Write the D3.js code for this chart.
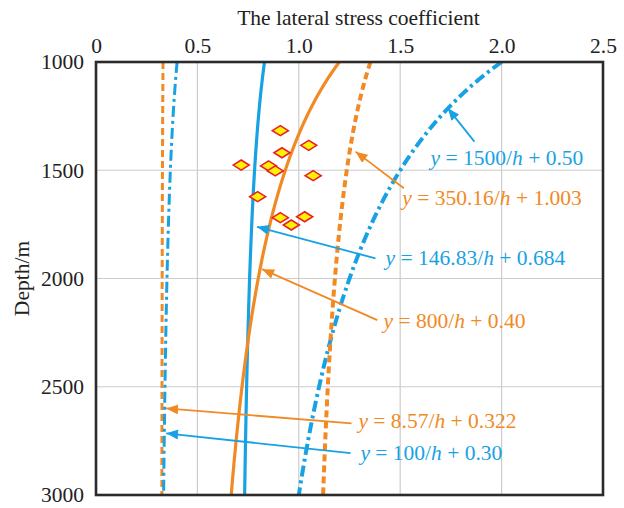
<!DOCTYPE html>
<html>
<head>
<meta charset="utf-8">
<script src="https://cdn.jsdelivr.net/npm/d3@7"></script>
<style>
  html, body { margin: 0; padding: 0; background: #fff; }
  svg { display: block; }
  text { font-family: "Liberation Serif", "DejaVu Serif", serif; }
</style>
</head>
<body>
<div id="chart"></div>
<script>
// Lateral stress coefficient models y = a/h + b, with h the depth in metres
const curveNames   = ["1500/h+0.50", "350.16/h+1.003", "146.83/h+0.684", "800/h+0.40", "8.57/h+0.322", "100/h+0.30"];
const curveA       = [1500, 350.16, 146.83, 800, 8.57, 100];
const curveB       = [0.50, 1.003, 0.684, 0.40, 0.322, 0.30];
const curveAText   = ["1500", "350.16", "146.83", "800", "8.57", "100"];
const curveBText   = ["0.50", "1.003", "0.684", "0.40", "0.322", "0.30"];
const curveColor   = ["blue", "orange", "blue", "orange", "orange", "blue"];
const curveStyle   = ["dashdot", "dash", "solid", "solid", "dash", "dashdot"];
const curveWeight  = ["heavy", "heavy", "medium", "medium", "light", "light"];

// Measured points: coefficient and depth
const pointCoef  = [0.909, 1.049, 0.917, 0.716, 0.851, 0.884, 1.071, 0.797, 0.909, 1.029, 0.963];
const pointDepth = [1317, 1385, 1419, 1476, 1480, 1503, 1525, 1622, 1719, 1715, 1753];

// Callouts: arrow tip, arrow tail and label anchor, in coefficient / depth units
const tipCoef    = [1.735, 1.280, 0.794, 0.819, 0.346, 0.346];
const tipDepth   = [1214, 1414, 1761, 1957, 2600, 2715];
const tailCoef   = [1.866, 1.518, 1.378, 1.387, 1.260, 1.255];
const tailDepth  = [1368, 1583, 1907, 2192, 2669, 2807];
const labelCoef  = [1.650, 1.510, 1.428, 1.418, 1.294, 1.304];
const labelDepth = [1476, 1660, 1938, 2230, 2690, 2838];

// Axes
const xTicks = [0, 0.5, 1.0, 1.5, 2.0, 2.5];
const xTickLabels = ["0", "0.5", "1.0", "1.5", "2.0", "2.5"];
const yTicks = [1000, 1500, 2000, 2500, 3000];
const xTitle = "The lateral stress coefficient";
const yTitle = "Depth/m";

const W = 624, H = 508;
const margin = { top: 62, right: 21, bottom: 13, left: 96 };
const iw = W - margin.left - margin.right;
const ih = H - margin.top - margin.bottom;

const palette = { blue: "#18a2e4", orange: "#f18a25" };
const dashes = { solid: null, dash: "7,4", dashdot: "11,4,3,4" };
const widths = { heavy: 4, medium: 3.2, light: 3 };

const svg = d3.select("#chart").append("svg")
  .attr("width", W).attr("height", H);

const defs = svg.append("defs");
["blue", "orange"].forEach(c => {
  defs.append("marker")
    .attr("id", "arrow-" + c)
    .attr("viewBox", "0 -5 12 10")
    .attr("refX", 12).attr("refY", 0)
    .attr("markerWidth", 12).attr("markerHeight", 10)
    .attr("markerUnits", "userSpaceOnUse")
    .attr("orient", "auto")
    .append("path")
    .attr("d", "M0,-5L12,0L0,5Z")
    .attr("fill", palette[c]);
});

const g = svg.append("g").attr("transform", `translate(${margin.left},${margin.top})`);

const x = d3.scaleLinear().domain([0, 2.5]).range([0, iw]);
const y = d3.scaleLinear().domain([1000, 3000]).range([0, ih]);

// Grid
g.append("g").selectAll("line.vg").data(xTicks.slice(1, -1)).join("line")
  .attr("x1", d => x(d)).attr("x2", d => x(d))
  .attr("y1", 0).attr("y2", ih)
  .attr("stroke", "#cccccc").attr("stroke-width", 1.2);
g.append("g").selectAll("line.hg").data(yTicks.slice(1, -1)).join("line")
  .attr("x1", 0).attr("x2", iw)
  .attr("y1", d => y(d)).attr("y2", d => y(d))
  .attr("stroke", "#cccccc").attr("stroke-width", 1.2);

// Axes (top and left)
const xAxis = g.append("g")
  .call(d3.axisTop(x).tickValues(xTicks).tickFormat((d, i) => xTickLabels[i]).tickSize(0).tickPadding(9));
xAxis.select(".domain").remove();
xAxis.selectAll("text").attr("font-size", 21.5).attr("fill", "#222")
  .attr("font-family", "Liberation Serif");

const yAxis = g.append("g")
  .call(d3.axisLeft(y).tickValues(yTicks).tickFormat(d3.format("d")).tickSize(0).tickPadding(12));
yAxis.select(".domain").remove();
yAxis.selectAll("text").attr("font-size", 21.5).attr("fill", "#222")
  .attr("font-family", "Liberation Serif");

svg.append("text")
  .attr("x", margin.left + iw / 2 + 9).attr("y", 25)
  .attr("text-anchor", "middle").attr("font-size", 21.5).attr("fill", "#222")
  .text(xTitle);

svg.append("text")
  .attr("transform", `translate(29,${margin.top + ih / 2}) rotate(-90)`)
  .attr("text-anchor", "middle").attr("font-size", 21.5).attr("fill", "#222")
  .text(yTitle);

// Curves
const depths = d3.range(1000, 3000.1, 5);
const clip = defs.append("clipPath").attr("id", "plot-clip");
clip.append("rect").attr("x", 0).attr("y", 0).attr("width", iw).attr("height", ih);

const line = d3.line().x(d => x(d[0])).y(d => y(d[1]));
const curves = g.append("g").attr("clip-path", "url(#plot-clip)");
curveNames.forEach((name, i) => {
  const pts = depths.map(h => [curveA[i] / h + curveB[i], h]);
  curves.append("path")
    .datum(pts)
    .attr("d", line)
    .attr("fill", "none")
    .attr("stroke", palette[curveColor[i]])
    .attr("stroke-width", widths[curveWeight[i]])
    .attr("stroke-dasharray", dashes[curveStyle[i]]);
});

// Measured points as diamonds
g.append("g").selectAll("path.pt").data(pointCoef.map((c, i) => [c, pointDepth[i]])).join("path")
  .attr("transform", d => `translate(${x(d[0])},${y(d[1])})`)
  .attr("d", "M-8,0L0,-5L8,0L0,5Z")
  .attr("fill", "#fff200")
  .attr("stroke", "#e8202a")
  .attr("stroke-width", 1.6);

// Callout arrows and formula labels
const callouts = g.append("g");
curveNames.forEach((name, i) => {
  const col = palette[curveColor[i]];
  callouts.append("line")
    .attr("x1", x(tailCoef[i])).attr("y1", y(tailDepth[i]))
    .attr("x2", x(tipCoef[i])).attr("y2", y(tipDepth[i]))
    .attr("stroke", col).attr("stroke-width", 1.8)
    .attr("marker-end", `url(#arrow-${curveColor[i]})`);
  const t = callouts.append("text")
    .attr("x", x(labelCoef[i])).attr("y", y(labelDepth[i]))
    .attr("font-size", 21.5).attr("fill", col);
  t.append("tspan").attr("font-style", "italic").text("y");
  t.append("tspan").text(" = " + curveAText[i] + "/");
  t.append("tspan").attr("font-style", "italic").text("h");
  t.append("tspan").text(" + " + curveBText[i]);
});

// Plot frame
g.append("rect")
  .attr("x", 0).attr("y", 0).attr("width", iw).attr("height", ih)
  .attr("fill", "none").attr("stroke", "#2b2b2b").attr("stroke-width", 2.6);
</script>
</body>
</html>
